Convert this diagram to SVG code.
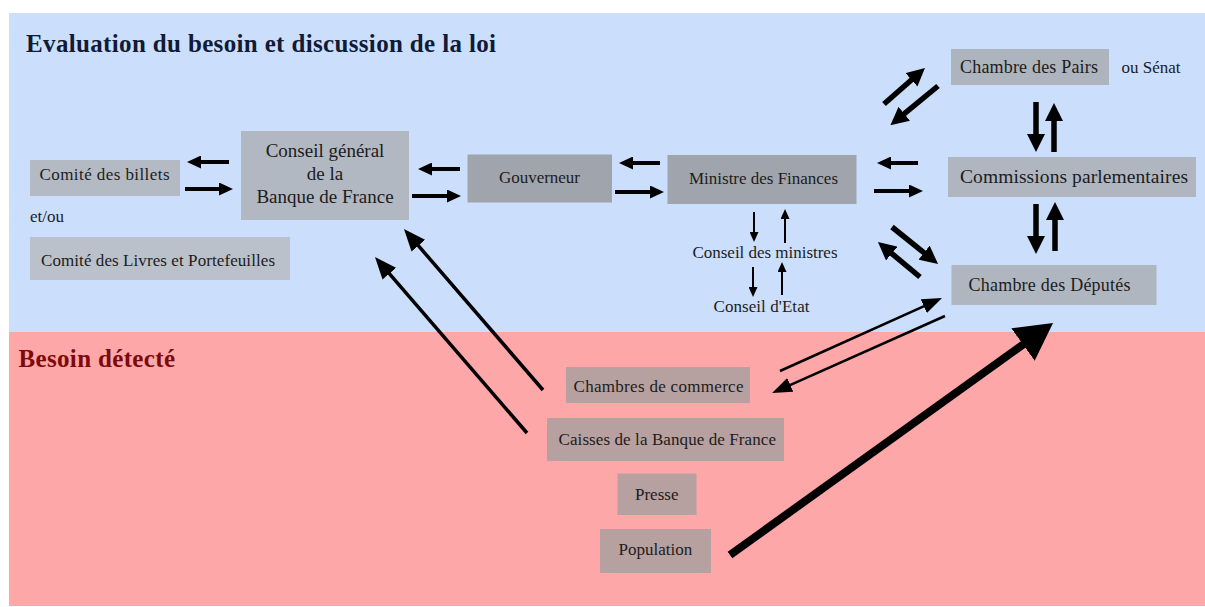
<svg xmlns="http://www.w3.org/2000/svg" width="1205" height="607" viewBox="0 0 1205 607">
<defs>
<style>
.t{font-family:"Liberation Serif","Times New Roman",serif;font-size:17px;fill:#1c1c1c}
.n{stroke:none}
.top{fill:#b1b8c1}
.dark{fill:#a0a5ad}
.low{fill:#b7a0a0}
.a{fill:none;stroke:#000}
</style>
<marker id="mMed" markerUnits="userSpaceOnUse" markerWidth="14" markerHeight="13" refX="1" refY="6.5" orient="auto"><path d="M0,0 L14,6.5 L0,13 Z" fill="#000"/></marker>
<marker id="mThick" markerUnits="userSpaceOnUse" markerWidth="18" markerHeight="18" refX="1" refY="9" orient="auto"><path d="M0,0 L18,9 L0,18 Z" fill="#000"/></marker>
<marker id="mSmall" markerUnits="userSpaceOnUse" markerWidth="10" markerHeight="9" refX="1" refY="4.5" orient="auto"><path d="M0,0 L10,4.5 L0,9 Z" fill="#000"/></marker>
<marker id="mThin" markerUnits="userSpaceOnUse" markerWidth="20" markerHeight="15" refX="1" refY="7.5" orient="auto"><path d="M0,0 L20,7.5 L0,15 Z" fill="#000"/></marker>
<marker id="mLong" markerUnits="userSpaceOnUse" markerWidth="22" markerHeight="18" refX="1" refY="9" orient="auto"><path d="M0,0 L22,9 L0,18 Z" fill="#000"/></marker>
<marker id="mBig" markerUnits="userSpaceOnUse" markerWidth="37" markerHeight="40" refX="1" refY="20" orient="auto"><path d="M0,0 L37,20 L0,40 Z" fill="#000"/></marker>
</defs>
<rect x="0" y="0" width="1205" height="607" fill="#ffffff"/>
<rect x="9" y="13" width="1196" height="319" fill="#cbdffd"/>
<rect x="9" y="332" width="1196" height="274" fill="#fea7a8"/>
<text x="26" y="52" font-family="Liberation Serif, Times New Roman, serif" font-size="25" font-weight="bold" fill="#111b36" textLength="470">Evaluation du besoin et discussion de la loi</text>
<text x="18.5" y="367" font-family="Liberation Serif, Times New Roman, serif" font-size="25" font-weight="bold" fill="#7d0a0a" textLength="156.5">Besoin détecté</text>

<g id="comite-billets"><rect class="n" x="30" y="160" width="150" height="36" fill="#b4bac3"/><text class="t" x="39.5" y="180" textLength="130">Comité des billets</text></g>
<text class="t" x="30" y="222">et/ou</text>
<g id="comite-livres"><rect class="n" x="30" y="237" width="260" height="43" fill="#bbc1ca"/><text class="t" x="41" y="266" textLength="234">Comité des Livres et Portefeuilles</text></g>
<g id="conseil-general"><rect class="n top" x="241" y="131" width="168" height="89"/>
<text class="t" x="325" y="157" text-anchor="middle" style="font-size:19px">Conseil général</text>
<text class="t" x="325" y="180" text-anchor="middle" style="font-size:19px">de la</text>
<text class="t" x="325" y="203" text-anchor="middle" style="font-size:19px">Banque de France</text></g>
<g id="gouverneur"><rect class="n dark" x="467.5" y="154.5" width="144.5" height="48"/><text class="t" x="499" y="183" textLength="81">Gouverneur</text></g>
<g id="ministre"><rect class="n dark" x="667.5" y="155" width="189" height="49"/><text class="t" x="689" y="184" textLength="149">Ministre des Finances</text></g>
<g id="conseil-ministres"><text class="t" x="692.5" y="257.5" textLength="145">Conseil des ministres</text></g>
<g id="conseil-etat"><text class="t" x="713.5" y="311.5" textLength="96">Conseil d'Etat</text></g>
<g id="chambre-pairs"><rect class="n" x="951" y="49" width="158" height="36" fill="#aeb4bd"/><text class="t" x="960" y="73" style="font-size:18px" textLength="138">Chambre des Pairs</text></g>
<text class="t" x="1121.5" y="73" textLength="59">ou Sénat</text>
<g id="commissions"><rect class="n" x="948" y="157" width="248" height="40" fill="#b0b6bf"/><text class="t" x="960" y="183" style="font-size:19.5px" textLength="228">Commissions parlementaires</text></g>
<g id="chambre-deputes"><rect class="n" x="951.5" y="265" width="205" height="40" fill="#b0b6bf"/><text class="t" x="968.5" y="291" style="font-size:18px" textLength="162">Chambre des Députés</text></g>
<g id="chambres-commerce"><rect class="n low" x="566" y="367" width="184" height="36"/><text class="t" x="573.5" y="391.5" textLength="170">Chambres de commerce</text></g>
<g id="caisses"><rect class="n low" x="547" y="418" width="237" height="43"/><text class="t" x="558.5" y="445" textLength="217.5">Caisses de la Banque de France</text></g>
<g id="presse"><rect class="n low" x="617.5" y="473.5" width="79" height="41.5"/><text class="t" x="635" y="500">Presse</text></g>
<g id="population"><rect class="n low" x="600" y="529" width="111" height="44"/><text class="t" x="618.5" y="555">Population</text></g>

<g id="connectors">
<g stroke-width="4" class="a">
<path d="M229,162 L200,162" marker-end="url(#mMed)"/>
<path d="M185,189 L220,189" marker-end="url(#mMed)"/>
<path d="M460,169 L431,169" marker-end="url(#mMed)"/>
<path d="M412,196 L448,196" marker-end="url(#mMed)"/>
<path d="M660,163 L632,163" marker-end="url(#mMed)"/>
<path d="M615,192 L651,192" marker-end="url(#mMed)"/>
<path d="M918,163 L890,163" marker-end="url(#mMed)"/>
<path d="M874,191 L910,191" marker-end="url(#mMed)"/>
</g>
<g stroke-width="5.5" class="a">
<path d="M884,104 L912.2,79.2" marker-end="url(#mThick)"/>
<path d="M938,86 L903.5,114.4" marker-end="url(#mThick)"/>
<path d="M1036,102 L1036,135" marker-end="url(#mThick)"/>
<path d="M1054,152 L1054,120" marker-end="url(#mThick)"/>
<path d="M1036,204 L1036,237" marker-end="url(#mThick)"/>
<path d="M1055,251 L1055,219" marker-end="url(#mThick)"/>
<path d="M892,227 L924.8,253.3" marker-end="url(#mThick)"/>
<path d="M920,277 L891,252.9" marker-end="url(#mThick)"/>
</g>
<g stroke-width="2" class="a">
<path d="M754,212 L754,233" marker-end="url(#mSmall)"/>
<path d="M785,243 L785,218" marker-end="url(#mSmall)"/>
<path d="M753,267 L753,288" marker-end="url(#mSmall)"/>
<path d="M782,295 L782,271" marker-end="url(#mSmall)"/>
</g>
<g stroke-width="2.5" class="a">
<path d="M780,371 L924.7,305.8" marker-end="url(#mThin)"/>
<path d="M945,316 L789.4,385.3" marker-end="url(#mThin)"/>
</g>
<g stroke-width="3.5" class="a">
<path d="M543,390 L417.7,244.9" marker-end="url(#mLong)"/>
<path d="M527,433 L388.7,272.9" marker-end="url(#mLong)"/>
</g>
<path class="a" stroke-width="8" d="M730,555 L1023.8,344" marker-end="url(#mBig)"/>
</g>
</svg>
